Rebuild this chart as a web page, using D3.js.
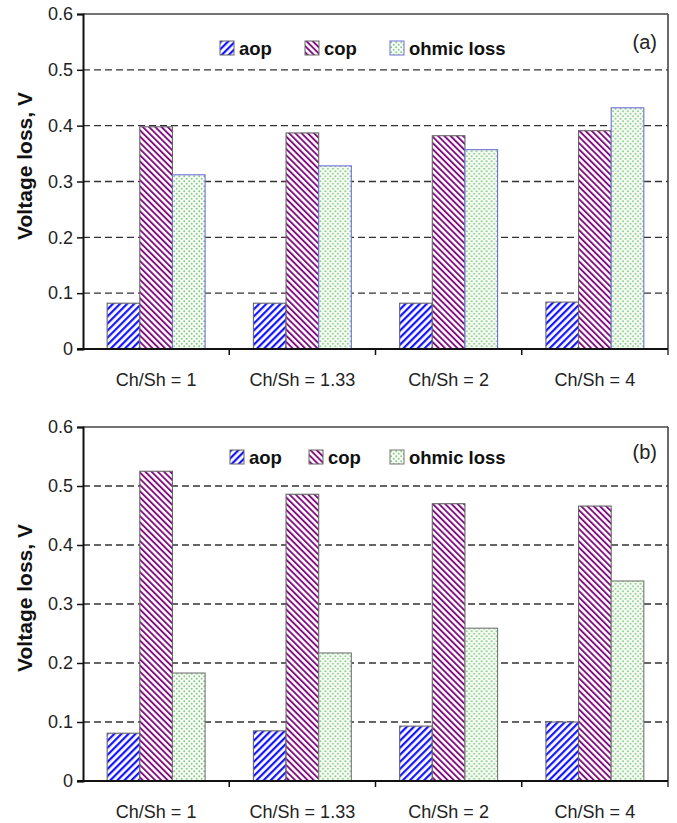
<!DOCTYPE html>
<meta charset="utf-8">
<head>
<title>Voltage loss by Ch/Sh</title>
<style>
body { margin: 0; background: #fff; }
svg { display: block; font-family: "Liberation Sans", Arial, sans-serif; }
.grid line { stroke: #333; stroke-dasharray: 7,4; stroke-width: 1.3; }
</style>
</head>
<body>
<script src="https://cdn.jsdelivr.net/npm/d3@7"></script>
<div id="chart"></div>
<script>

// data
var categories = ["Ch/Sh = 1", "Ch/Sh = 1.33", "Ch/Sh = 2", "Ch/Sh = 4"];
var series = ["aop", "cop", "ohmic loss"];
var aopA = [0.082, 0.082, 0.082, 0.084];
var copA = [0.398, 0.387, 0.382, 0.391];
var ohmicA = [0.312, 0.328, 0.357, 0.432];
var aopB = [0.081, 0.085, 0.093, 0.100];
var copB = [0.525, 0.486, 0.470, 0.466];
var ohmicB = [0.183, 0.217, 0.259, 0.339];
var yTicks = [0, 0.1, 0.2, 0.3, 0.4, 0.5, 0.6];
var panelLabels = ["(a)", "(b)"];

var width = 677, height = 823;

var svg = d3.select("#chart").append("svg")
    .attr("width", width)
    .attr("height", height);

// fill patterns
var defs = svg.append("defs");

var pA = defs.append("pattern").attr("id", "p-aop")
    .attr("patternUnits", "userSpaceOnUse")
    .attr("width", 5).attr("height", 5)
    .attr("patternTransform", "rotate(45)");
pA.append("rect").attr("width", 5).attr("height", 5).attr("fill", "#fff");
pA.append("rect").attr("width", 2.2).attr("height", 5).attr("fill", "#1414ff");

var pC = defs.append("pattern").attr("id", "p-cop")
    .attr("patternUnits", "userSpaceOnUse")
    .attr("width", 4.4).attr("height", 4.4)
    .attr("patternTransform", "rotate(-45)");
pC.append("rect").attr("width", 4.4).attr("height", 4.4).attr("fill", "#fff");
pC.append("rect").attr("width", 1.9).attr("height", 4.4).attr("fill", "#80107f");

var pO = defs.append("pattern").attr("id", "p-ohm")
    .attr("patternUnits", "userSpaceOnUse")
    .attr("width", 5).attr("height", 5);
pO.append("rect").attr("width", 5).attr("height", 5).attr("fill", "#f9fdf7");
pO.append("circle").attr("cx", 1.2).attr("cy", 1.2).attr("r", 0.95).attr("fill", "#80c980");
pO.append("circle").attr("cx", 3.7).attr("cy", 3.7).attr("r", 0.95).attr("fill", "#80c980");

var fills = {"aop": "url(#p-aop)", "cop": "url(#p-cop)", "ohmic loss": "url(#p-ohm)"};

var panels = [
  {top: 14, bottom: 349, values: [aopA, copA, ohmicA], ohmStroke: "#7070d8",
   legendY: 41, legendX: [220, 305, 390], titleY: 166, tagY: 49},
  {top: 427, bottom: 781, values: [aopB, copB, ohmicB], ohmStroke: "#777",
   legendY: 450, legendX: [230, 309, 390], titleY: 598, tagY: 459}
];

var left = 83, right = 668;

var x0 = d3.scaleBand().domain(categories).range([left, right]);
var x1 = d3.scaleBand().domain(series).range([0, x0.bandwidth()]).paddingOuter(0.74);

panels.forEach(function(p, pi) {
  var y = d3.scaleLinear().domain([0, 0.6]).range([p.bottom, p.top]);
  var g = svg.append("g");

  // gridlines
  g.append("g").attr("class", "grid")
    .selectAll("line")
    .data(yTicks.filter(function(d) { return d > 0 && d < 0.6; }))
    .enter().append("line")
      .attr("x1", left).attr("x2", right)
      .attr("y1", function(d) { return y(d); })
      .attr("y2", function(d) { return y(d); });

  // frame top/right
  g.append("line").attr("x1", left).attr("x2", right)
    .attr("y1", p.top).attr("y2", p.top)
    .attr("stroke", "#444").attr("stroke-width", 1.6);
  g.append("line").attr("x1", right).attr("x2", right)
    .attr("y1", p.top).attr("y2", p.bottom + 6)
    .attr("stroke", "#444").attr("stroke-width", 1.6);

  // bars
  var rows = categories.map(function(c, i) {
    return series.map(function(s, j) { return {cat: c, key: s, value: p.values[j][i]}; });
  });
  g.selectAll(".grp")
    .data(rows)
    .enter().append("g")
      .attr("transform", function(d) { return "translate(" + x0(d[0].cat) + ",0)"; })
    .selectAll("rect")
    .data(function(d) { return d; })
    .enter().append("rect")
      .attr("x", function(d) { return x1(d.key); })
      .attr("width", x1.bandwidth())
      .attr("y", function(d) { return y(d.value); })
      .attr("height", function(d) { return p.bottom - y(d.value); })
      .attr("fill", function(d) { return fills[d.key]; })
      .attr("stroke", function(d) { return d.key === "ohmic loss" ? p.ohmStroke : "#666"; })
      .attr("stroke-width", 1.1);

  // y axis
  var yAxis = d3.axisLeft(y)
    .tickValues(yTicks)
    .tickSize(6)
    .tickPadding(4)
    .tickFormat(function(d) { return d === 0 ? "0" : d3.format(".1f")(d); });
  var ya = g.append("g").attr("transform", "translate(" + left + ",0)").call(yAxis);
  ya.attr("font-family", null).attr("font-size", null);
  ya.select(".domain").attr("stroke", "#111").attr("stroke-width", 2);
  ya.selectAll(".tick line").attr("stroke", "#111").attr("stroke-width", 1.5);
  ya.selectAll(".tick text").attr("font-size", 18).attr("fill", "#222");

  // x axis
  var xa = g.append("g").attr("transform", "translate(0," + p.bottom + ")");
  xa.append("line").attr("x1", left - 6).attr("x2", right)
    .attr("stroke", "#111").attr("stroke-width", 2);
  var bounds = categories.map(function(c) { return x0(c); }).concat([x0.range()[1]]);
  xa.selectAll(".xt").data(bounds.slice(1, -1)).enter().append("line")
    .attr("x1", function(d) { return d; }).attr("x2", function(d) { return d; })
    .attr("y1", 0).attr("y2", 6)
    .attr("stroke", "#111").attr("stroke-width", 1.5);
  xa.selectAll(".cl").data(categories).enter().append("text")
    .attr("x", function(d) { return x0(d) + x0.bandwidth() / 2; })
    .attr("y", 37)
    .attr("text-anchor", "middle")
    .attr("font-size", 18)
    .attr("fill", "#222")
    .text(function(d) { return d; });

  // y title
  g.append("text")
    .attr("transform", "translate(32," + p.titleY + ") rotate(-90)")
    .attr("text-anchor", "middle")
    .attr("font-size", 21)
    .attr("font-weight", "bold")
    .attr("fill", "#111")
    .text("Voltage loss, V");

  // legend
  var lg = g.selectAll(".lg").data(series).enter().append("g")
    .attr("transform", function(d, i) { return "translate(" + p.legendX[i] + "," + p.legendY + ")"; });
  lg.append("rect")
    .attr("width", 14).attr("height", 14)
    .attr("fill", function(d) { return fills[d]; })
    .attr("stroke", function(d) { return d === "ohmic loss" ? p.ohmStroke : "#666"; })
    .attr("stroke-width", 1);
  lg.append("text")
    .attr("x", 19).attr("y", 13.5)
    .attr("font-size", 18.5)
    .attr("font-weight", "bold")
    .attr("fill", "#111")
    .text(function(d) { return d; });

  // panel tag
  g.append("text")
    .attr("x", 657).attr("y", p.tagY)
    .attr("text-anchor", "end")
    .attr("font-size", 20)
    .attr("fill", "#222")
    .text(panelLabels[pi]);
});
</script>
</body>
